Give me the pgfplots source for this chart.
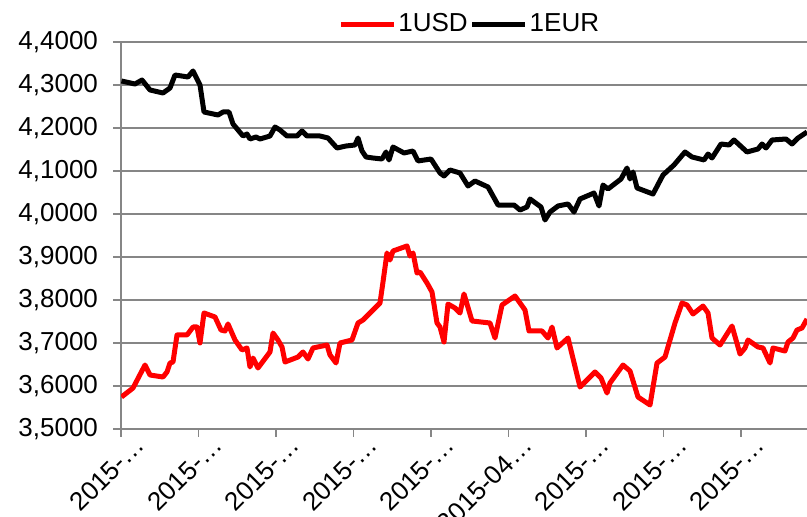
\documentclass[border=0pt]{standalone}
\usepackage{fontspec}
\setmainfont{Liberation Sans}
\usepackage{pgfplots}
\pgfplotsset{compat=1.18}
\definecolor{gridgray}{RGB}{134,134,134}
\begin{document}
\begin{tikzpicture}[font=\fontsize{13pt}{15pt}\selectfont]
\useasboundingbox (-60.5pt,-44pt) rectangle (343pt,214.5pt);
\begin{axis}[
  scale only axis, width=343pt, height=193.5pt,
  xmin=0, xmax=686, ymin=3.5, ymax=4.4,
  axis x line*=bottom, axis y line*=left,
  axis line style={gridgray, line width=0.65pt, -},
  tick style={gridgray, line width=0.65pt},
  tick align=outside, major tick length=4pt,
  ytick={3.5,3.6,3.7,3.8,3.9,4.0,4.1,4.2,4.3,4.4},
  ymajorgrids, grid style={gridgray, line width=0.65pt},
  xtick={0,77.5,155,232.5,310,387.5,465,542.5,620},
  xticklabels={2015-…,2015-…,2015-…,2015-…,2015-…,2015-04…,2015-…,2015-…,2015-…},
  x tick label style={rotate=45, anchor=north east, xshift=8.8pt},
  y tick label style={xshift=-4pt},
  yticklabel style={/pgf/number format/fixed, /pgf/number format/fixed zerofill, /pgf/number format/precision=4, /pgf/number format/use comma, /pgf/number format/assume math mode=true},
  legend style={at={(0.3163,1.0465)}, anchor=west, draw=none, fill=none, inner sep=0pt, nodes={inner sep=1pt}},
  legend columns=2,
  legend image code/.code={\draw[#1] (0pt,0pt) -- (26.5pt,0pt);},
  every axis plot/.append style={line width=2.5pt, line join=round},
]
\addplot[red, mark=none] coordinates {
(0.5,3.5744) (12,3.5953) (24,3.6488) (29,3.6256) (42,3.6209) (46,3.6326) (49,3.6535) (52,3.6558)
(56,3.7186) (66,3.7186) (72,3.7372) (76,3.7372) (79,3.7000) (83,3.7698) (94,3.7605) (100,3.7302)
(104,3.7279) (107,3.7442) (114,3.7070) (121,3.6837) (126,3.6884) (129,3.6442) (132,3.6651) (137,3.6419)
(149,3.6791) (152,3.7233) (157,3.7070) (161,3.6907) (164,3.6558) (177,3.6674) (182,3.6791) (187,3.6628)
(192,3.6884) (206,3.6953) (209,3.6721) (215,3.6535) (219,3.7000) (231,3.7070) (237,3.7465) (242,3.7535)
(246,3.7628) (259,3.7930) (262,3.8419) (266,3.9093) (269,3.8930) (272,3.9140) (286,3.9256) (289,3.9023)
(292,3.9093) (296,3.8628) (299,3.8651) (306,3.8395) (311,3.8186) (316,3.7465) (319,3.7372) (323,3.7023)
(327,3.7907) (334,3.7814) (339,3.7698) (343,3.8140) (351,3.7512) (369,3.7465) (374,3.7116) (381,3.7884)
(394,3.8093) (404,3.7767) (408,3.7279) (421,3.7279) (427,3.7116) (431,3.7372) (436,3.6884) (447,3.7116)
(459,3.5977) (474,3.6326) (480,3.6186) (486,3.5837) (489,3.6070) (502,3.6488) (509,3.6349) (517,3.5744)
(529,3.5558) (536,3.6535) (544,3.6674) (554,3.7465) (561,3.7930) (566,3.7884) (572,3.7674) (582,3.7860)
(587,3.7698) (591,3.7116) (599,3.6953) (611,3.7395) (619,3.6744) (624,3.6884) (627,3.7070) (637,3.6907)
(642,3.6884) (649,3.6535) (652,3.6884) (664,3.6814) (667,3.7023) (672,3.7116) (676,3.7302) (681,3.7349)
(686,3.7558)
};
\addlegendentry{1USD\hspace{11pt}}
\addplot[black, mark=none] coordinates {
(0.5,4.3093) (14,4.3023) (21,4.3116) (29,4.2884) (42,4.2814) (49,4.2930) (54,4.3233) (67,4.3186)
(72,4.3326) (79,4.3000) (83,4.2372) (97,4.2302) (102,4.2372) (108,4.2372) (112,4.2093) (122,4.1814)
(126,4.1860) (129,4.1744) (135,4.1791) (139,4.1744) (149,4.1814) (154,4.2023) (159,4.1953) (166,4.1814)
(176,4.1814) (181,4.1930) (186,4.1814) (199,4.1814) (207,4.1767) (216,4.1535) (225,4.1581) (234,4.1605)
(237,4.1767) (241,4.1465) (245,4.1326) (252,4.1302) (261,4.1279) (265,4.1442) (268,4.1256) (272,4.1558)
(283,4.1419) (292,4.1465) (297,4.1233) (310,4.1279) (319,4.0953) (323,4.0884) (329,4.1023) (339,4.0953)
(347,4.0651) (354,4.0767) (367,4.0628) (377,4.0209) (393,4.0209) (399,4.0093) (406,4.0163) (409,4.0349)
(420,4.0163) (424,3.9860) (429,4.0046) (437,4.0186) (447,4.0233) (453,4.0046) (459,4.0349) (473,4.0488)
(478,4.0186) (482,4.0674) (487,4.0581) (500,4.0814) (506,4.1070) (509,4.0814) (512,4.0977) (516,4.0605)
(532,4.0465) (542,4.0907) (553,4.1140) (564,4.1442) (571,4.1326) (583,4.1256) (587,4.1395) (591,4.1302)
(600,4.1628) (608,4.1605) (613,4.1721) (626,4.1442) (637,4.1512) (641,4.1628) (645,4.1535) (651,4.1721)
(665,4.1744) (671,4.1628) (677,4.1767) (686,4.1907)
};
\addlegendentry{1EUR}
\end{axis}
\end{tikzpicture}
\end{document}
